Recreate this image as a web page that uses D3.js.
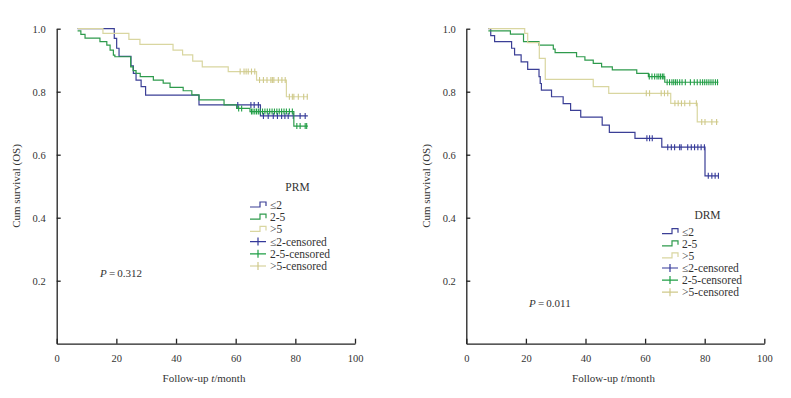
<!DOCTYPE html>
<html>
<head>
<meta charset="utf-8">
<script src="https://cdn.jsdelivr.net/npm/d3@7"></script>
<style>
  body { margin: 0; background: #fff; }
  svg { display: block; font-family: "Liberation Serif", "Times New Roman", serif; }
  .tick text { font-size: 10.5px; fill: #333; }
  .lbl { font-size: 11px; fill: #333; }
  .leg { font-size: 11.5px; fill: #333; }
</style>
</head>
<body>
<svg id="chart" width="791" height="398"></svg>
<script>
// ── Data: survival steps [month, cum survival], end of follow-up, censored months ──
const groupNames = ["≤2", "2-5", ">5"];
const legendLabels = ["≤2", "2-5", ">5", "≤2-censored", "2-5-censored", ">5-censored"];
const xTicks = [0, 20, 40, 60, 80, 100];
const yTicks = [0.2, 0.4, 0.6, 0.8, 1.0];

// PRM panel
const prmLe2Steps = [[7,1],[19.3,.969],[20.1,.938],[20.9,.912],[24.9,.882],[25.7,.858],[26.6,.837],
  [28.3,.816],[29.8,.789],[47.7,.758],[68.3,.723]];
const prmLe2End = 84.2;
const prmLe2Cens = [60.7, 65.1, 66.2, 67.6, 69.3, 70.9, 72.6, 74, 75.4, 76.5, 77.6, 79.3, 81.6, 83.3];

const prm25Steps = [[7,.993],[8.1,.982],[9.5,.970],[14.5,.959],[16.8,.948],[17.9,.932],[19.0,.916],
  [19.5,.911],[24.8,.879],[25.6,.867],[26.6,.858],[28.0,.848],[32.4,.837],[35.7,.827],[38.0,.814],
  [42.4,.803],[45.3,.790],[47.7,.774],[56.1,.758],[60.3,.747],[64.8,.737],[79.5,.691]];
const prm25End = 84.2;
const prm25Cens = [61, 62, 65.3, 65.8, 66.4, 67, 67.6, 68.2, 69, 69.8, 70.6, 71.4, 72.2, 73, 73.8,
  74.6, 75.4, 76.2, 77, 78, 79, 80.5, 81.6, 83.3, 83.8];

const prmGt5Steps = [[7,1],[15.5,.985],[24.2,.966],[27.9,.950],[39,.932],[42.2,.917],[45.6,.897],
  [48.8,.879],[57.5,.864],[67,.837],[77,.784]];
const prmGt5End = 84.2;
const prmGt5Cens = [61.5, 62.8, 63.5, 64.2, 65.3, 66.4, 68, 69.3, 70.5, 71.8, 72.3, 72.8, 74.3, 75.5,
  76.6, 78, 79, 79.5, 81, 82.8, 84];

// DRM panel
const drmLe2Steps = [[7.4,1],[8.2,.978],[9.5,.959],[15.2,.938],[16.2,.917],[18.4,.895],[20.6,.871],
  [24.4,.848],[24.8,.826],[25.2,.805],[28.6,.784],[32.5,.762],[35.0,.741],[38.4,.719],[45.6,.694],
  [48.0,.671],[56.6,.652],[65.6,.624],[80.1,.533]];
const drmLe2End = 84.6;
const drmLe2Cens = [60.6, 61.5, 62.4, 67.6, 68.8, 69.9, 71.6, 72.1, 74.3, 75.5, 76.6, 77.7, 78.8, 79.9,
  81.2, 82.4, 83.5, 84.6];

const drm25Steps = [[7.4,.993],[14.8,.983],[19.2,.959],[24.4,.948],[29.2,.935],[29.8,.924],[37.0,.911],
  [39.8,.900],[42.6,.890],[45.4,.879],[49.0,.869],[57.2,.858],[61.1,.848],[66.6,.830]];
const drm25End = 84.6;
const drm25Cens = [61.4, 62.3, 63.2, 64, 64.6, 65.2, 65.8, 66.3, 67.4, 68.2, 69.0, 69.6, 70.2, 70.8,
  71.6, 72.4, 73.5, 75.2, 76.5, 77.5, 78.5, 79.3, 80.0, 80.7, 81.4, 82.1, 82.8, 83.6, 84.3];

const drmGt5Steps = [[7.4,1],[19.6,.985],[20.6,.956],[24.5,.906],[26.5,.839],[42.6,.816],[47.8,.795],
  [68.6,.763],[77.5,.704]];
const drmGt5End = 84.6;
const drmGt5Cens = [60.4, 61.5, 65.4, 66.5, 67.6, 70, 71.1, 72.2, 73.3, 75, 77.2, 79, 80.1, 82.4, 84];

// ── Styling / layout ──────────────────────────────────────────────────────────
const colors = ["#3b3f96", "#2e9a4c", "#d9d6a0"];
const censColors = ["#34399a", "#1f9f45", "#cfc98a"];

const panels = [
  { x0: 56.7, x1: 355, groups: [
      [prmLe2Steps, prmLe2End, prmLe2Cens], [prm25Steps, prm25End, prm25Cens], [prmGt5Steps, prmGt5End, prmGt5Cens]],
    title: "PRM", titleX: 297.5, titleY: 191, legX: 250, legY: 205, legDy: 12.2,
    p: "0.312", pX: 100, pY: 277, yTitleX: 16, xTitleX: 204, tickPad: 11 },
  { x0: 466.3, x1: 764.3, groups: [
      [drmLe2Steps, drmLe2End, drmLe2Cens], [drm25Steps, drm25End, drm25Cens], [drmGt5Steps, drmGt5End, drmGt5Cens]],
    title: "DRM", titleX: 707.5, titleY: 219, legX: 662, legY: 231.7, legDy: 12.1,
    p: "0.011", pX: 529, pY: 306.5, yTitleX: 426, xTitleX: 613.5, tickPad: 10.5 }
];

const svg = d3.select("#chart");
const yTop = 28.7, yBot = 343.7;

function stepAt(steps, t) {
  let s = steps[0][1];
  steps.forEach(d => { if (d[0] <= t) s = d[1]; });
  return s;
}

panels.forEach(P => {
  const x = d3.scaleLinear().domain([0, 100]).range([P.x0, P.x1]);
  const y = d3.scaleLinear().domain([0, 1]).range([yBot, yTop]);
  const g = svg.append("g");

  // ── Axes ───────────────────────────────────────────────────────────────────
  const ax = g.append("g").attr("transform", `translate(0,${yBot})`)
    .call(d3.axisBottom(x).tickValues(xTicks).tickSizeInner(-5).tickSizeOuter(0).tickPadding(10.5));
  const ay = g.append("g").attr("transform", `translate(${P.x0},0)`)
    .call(d3.axisLeft(y).tickValues(yTicks).tickFormat(d3.format(".1f"))
      .tickSizeInner(-4).tickSizeOuter(0).tickPadding(P.tickPad));
  [ax, ay].forEach(a => {
    a.selectAll("path, line").attr("stroke", "#222").attr("stroke-width", 1.3);
    a.selectAll("text").attr("font-family", "Liberation Serif");
  });

  // ── Curves ────────────────────────────────────────────────────────────────
  const line = d3.line().x(d => x(d[0])).y(d => y(d[1])).curve(d3.curveStepAfter);
  P.groups.forEach(([steps, end, cens], i) => {
    const pts = steps.concat([[end, steps[steps.length - 1][1]]]);
    g.append("path").attr("d", line(pts))
      .attr("fill", "none").attr("stroke", colors[i]).attr("stroke-width", 1.2);
    g.append("g").selectAll("line").data(cens).join("line")
      .attr("x1", d => x(d)).attr("x2", d => x(d))
      .attr("y1", d => y(stepAt(steps, d)) - 3).attr("y2", d => y(stepAt(steps, d)) + 3)
      .attr("stroke", censColors[i]).attr("stroke-width", 1.1);
  });

  // ── Axis titles ─────────────────────────────────────────────────────────────
  g.append("text").attr("class", "lbl")
    .attr("transform", `translate(${P.yTitleX},186) rotate(-90)`)
    .attr("text-anchor", "middle").attr("dy", "0.35em").text("Cum survival (OS)");
  const xt = g.append("text").attr("class", "lbl").attr("x", P.xTitleX).attr("y", 382)
    .attr("text-anchor", "middle");
  xt.append("tspan").text("Follow-up ");
  xt.append("tspan").attr("font-style", "italic").text("t");
  xt.append("tspan").text("/month");

  // ── P value ────────────────────────────────────────────────────────────────
  const pt = g.append("text").attr("class", "lbl").attr("x", P.pX).attr("y", P.pY);
  pt.append("tspan").attr("font-style", "italic").text("P");
  pt.append("tspan").text("\u2009=\u2009" + P.p);

  // ── Legend ───────────────────────────────────────────────────────────────
  g.append("text").attr("class", "leg").attr("x", P.titleX).attr("y", P.titleY)
    .attr("text-anchor", "middle").text(P.title);
  legendLabels.forEach((lab, i) => {
    const ly = P.legY + i * P.legDy, lx = P.legX;
    const ci = i % 3;
    if (i < 3) {
      g.append("path")
        .attr("d", `M${lx},${ly + 2}H${lx + 10}V${ly - 3}H${lx + 16}V${ly + 1}`)
        .attr("fill", "none").attr("stroke", colors[ci]).attr("stroke-width", 1.2);
    } else {
      g.append("path")
        .attr("d", `M${lx},${ly}H${lx + 16}M${lx + 8},${ly - 4}V${ly + 4}`)
        .attr("fill", "none").attr("stroke", censColors[ci]).attr("stroke-width", 1.2);
    }
    g.append("text").attr("class", "leg").attr("x", lx + 20).attr("y", ly)
      .attr("dy", "0.35em").text(lab);
  });
});
</script>
</body>
</html>
